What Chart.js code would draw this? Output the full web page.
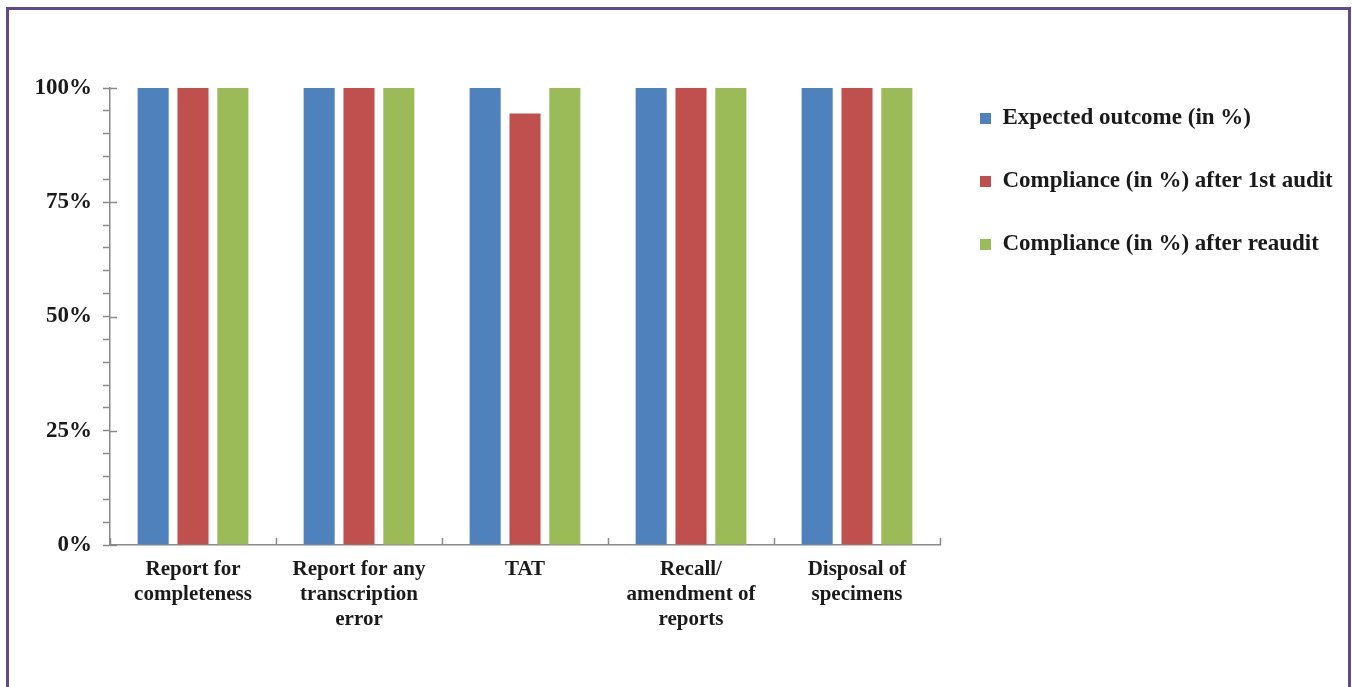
<!DOCTYPE html>
<html>
<head>
<meta charset="utf-8">
<script src="https://cdn.jsdelivr.net/npm/chart.js@4.4.1/dist/chart.umd.min.js"></script>
<style>
  html, body { margin: 0; padding: 0; background: #ffffff; }
  #wrap { position: relative; width: 1352px; height: 687px; overflow: hidden; }
  #frame { position: absolute; left: 6px; top: 7px; width: 1345px; height: 700px;
           border: 3px solid #5f4a8c; box-sizing: border-box; }
  canvas { position: absolute; left: 0; top: 0; }
</style>
</head>
<body>
<div id="wrap">
  <div id="frame"></div>
  <canvas id="chart" width="1352" height="687"></canvas>
</div>
<script>
// Audit parameters and results (percent)
const categories = [
  ['Report for', 'completeness'],
  ['Report for any', 'transcription', 'error'],
  ['TAT'],
  ['Recall/', 'amendment of', 'reports'],
  ['Disposal of', 'specimens']
];
const seriesNames = [
  'Expected outcome (in %)',
  'Compliance (in %) after 1st audit',
  'Compliance (in %) after reaudit'
];
const expectedOutcome = [100, 100, 100, 100, 100];
const afterFirstAudit = [100, 100, 94.4, 100, 100];
const afterReaudit = [100, 100, 100, 100, 100];
const yTickLabels = { 0: '0%', 25: '25%', 50: '50%', 75: '75%', 100: '100%' };

const colors = ['#4f81bd', '#c0504d', '#9bbb59'];
const axisColor = '#8a8a8a';
const serif = "'Liberation Serif', 'Times New Roman', serif";
const catFont = { family: serif, size: 21, weight: 'bold' };
const valFont = { family: serif, size: 23, weight: 'bold' };
const legendFont = { family: serif, size: 23, weight: 'bold' };

// Legend box: fixed width beside the plot, first entry at a set height
const LEGEND_WIDTH = 407;
const LEGEND_TOP = 67;
const legendPlacement = {
  id: 'legendPlacement',
  afterInit(chart) {
    const lg = chart.legend;
    const fit = lg.fit.bind(lg);
    lg.fit = function () { fit(); this.width = LEGEND_WIDTH; };
    const draw = lg.draw.bind(lg);
    lg.draw = function () {
      const h = this.bottom - this.top;
      this.top = LEGEND_TOP;
      this.bottom = LEGEND_TOP + h;
      draw();
    };
  }
};

// Small inward tick marks: category boundaries on x, crossing marks at the labelled y values
const axisMarks = {
  id: 'axisMarks',
  afterDraw(chart) {
    const { ctx, chartArea, scales: { x, y } } = chart;
    ctx.save();
    ctx.strokeStyle = axisColor;
    ctx.lineWidth = 1.5;
    ctx.beginPath();
    const n = chart.data.labels.length;
    for (let i = 0; i <= n; i++) {
      const px = Math.round(i < n ? x.getPixelForValue(i) - x.width / n / 2 : chartArea.right) + 0.5;
      ctx.moveTo(px, chartArea.bottom);
      ctx.lineTo(px, chartArea.bottom - 7);
    }
    Object.keys(yTickLabels).forEach(v => {
      const py = Math.round(y.getPixelForValue(Number(v))) + 0.5;
      ctx.moveTo(chartArea.left, py);
      ctx.lineTo(chartArea.left + 7, py);
    });
    ctx.stroke();
    ctx.restore();
  }
};

new Chart(document.getElementById('chart'), {
  type: 'bar',
  data: {
    labels: categories,
    datasets: [
      { label: seriesNames[0], data: expectedOutcome, backgroundColor: colors[0] },
      { label: seriesNames[1], data: afterFirstAudit, backgroundColor: colors[1] },
      { label: seriesNames[2], data: afterReaudit, backgroundColor: colors[2] }
    ]
  },
  options: {
    responsive: false,
    animation: false,
    events: [],
    datasets: { bar: { categoryPercentage: 0.72, barPercentage: 0.78 } },
    layout: { padding: { left: 20, top: 88, right: 5, bottom: 0 } },
    scales: {
      x: {
        border: { color: axisColor, width: 1.5 },
        grid: { display: false },
        ticks: { color: '#1a1a1a', font: catFont, padding: 4, maxRotation: 0, autoSkip: false },
        afterFit(scale) { scale.height = 142; }
      },
      y: {
        min: 0,
        max: 100,
        border: { color: axisColor, width: 1.5 },
        grid: { drawOnChartArea: false, drawTicks: true, tickLength: 7, tickColor: axisColor, tickWidth: 1.5 },
        ticks: {
          stepSize: 5,
          autoSkip: false,
          color: '#1a1a1a',
          font: valFont,
          padding: 11,
          callback: v => yTickLabels[v] !== undefined ? yTickLabels[v] : ''
        },
        afterFit(scale) { scale.width = 90; }
      }
    },
    plugins: {
      legend: {
        position: 'right',
        align: 'start',
        labels: {
          color: '#1a1a1a',
          font: legendFont,
          boxWidth: 11,
          boxHeight: 11,
          padding: 40
        }
      },
      tooltip: { enabled: false }
    }
  },
  plugins: [legendPlacement, axisMarks]
});
</script>
</body>
</html>
